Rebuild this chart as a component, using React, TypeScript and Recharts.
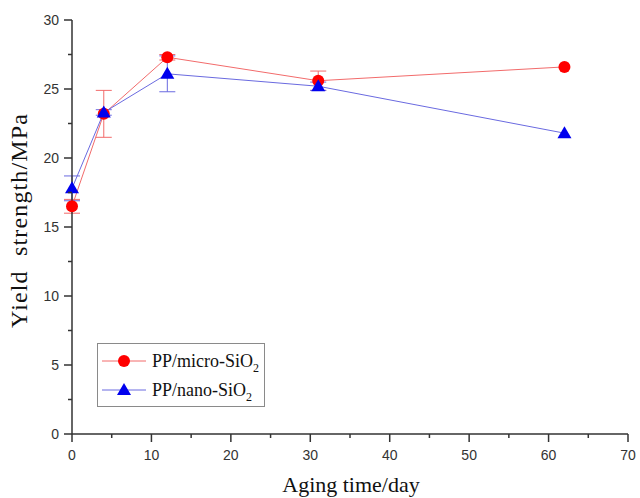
import React from "react";
import {
  LineChart,
  Line,
  XAxis,
  YAxis,
  ErrorBar,
  Legend,
} from "recharts";

const days = [0, 4, 12, 31, 62];
const microSiO2 = [16.5, 23.2, 27.3, 25.6, 26.6];
const microErr = [0.5, 1.7, 0.2, 0.7, 0];
const nanoSiO2 = [17.8, 23.3, 26.1, 25.2, 21.8];
const nanoErr = [0.9, 0.2, 1.3, 0.3, 0];

const xTicks = [0, 5, 10, 15, 20, 25, 30, 35, 40, 45, 50, 55, 60, 65, 70];
const yTicks = [0, 2.5, 5, 7.5, 10, 12.5, 15, 17.5, 20, 22.5, 25, 27.5, 30];

const data = days.map((d, i) => ({
  day: d,
  micro: microSiO2[i],
  microErr: microErr[i],
  nano: nanoSiO2[i],
  nanoErr: nanoErr[i],
}));

const RED = "#ff0000";
const RED_LINE = "#f26b6b";
const BLUE = "#0000ee";
const BLUE_LINE = "#6a6ae0";
const AXIS = "#333";
const SERIF = "'Liberation Serif', 'Times New Roman', serif";

// major ticks get a label and a longer mark, minor ones just a short mark
function XTick(props: any) {
  const { x, y, payload } = props;
  const major = payload.value % 10 === 0;
  return (
    <g>
      <line x1={x} x2={x} y1={y} y2={y + (major ? 8 : 4)} stroke={AXIS} strokeWidth={1.5} />
      {major && (
        <text x={x} y={y + 26} textAnchor="middle" fontSize={14} fill="#333" fontFamily="'Liberation Sans', Arial, sans-serif">
          {payload.value}
        </text>
      )}
    </g>
  );
}

function YTick(props: any) {
  const { x, y, payload } = props;
  const major = payload.value % 5 === 0;
  return (
    <g>
      <line x1={x - (major ? 8 : 4)} x2={x} y1={y} y2={y} stroke={AXIS} strokeWidth={1.5} />
      {major && (
        <text x={x - 13} y={y + 5} textAnchor="end" fontSize={14} fill="#333" fontFamily="'Liberation Sans', Arial, sans-serif">
          {payload.value}
        </text>
      )}
    </g>
  );
}

function Triangle(props: any) {
  const { cx, cy } = props;
  if (cx == null || cy == null) return null;
  return <path d={`M${cx},${cy - 7} L${cx + 7},${cy + 5} L${cx - 7},${cy + 5} Z`} fill={BLUE} />;
}

function Circle(props: any) {
  const { cx, cy } = props;
  if (cx == null || cy == null) return null;
  return <circle cx={cx} cy={cy} r={6} fill={RED} />;
}

function LegendBox() {
  const row = (color: string, marker: React.ReactNode, label: string) => (
    <div style={{ display: "flex", alignItems: "center", height: 29 }}>
      <svg width={48} height={20}>
        <line x1={2} x2={46} y1={10} y2={10} stroke={color} strokeWidth={1} />
        {marker}
      </svg>
      <span style={{ marginLeft: 4, fontSize: 18, lineHeight: "20px", color: "#111", fontFamily: SERIF, whiteSpace: "nowrap" }}>
        {label}
        <sub style={{ fontSize: 12, lineHeight: 0 }}>2</sub>
      </span>
    </div>
  );
  return (
    <div style={{ border: "1.5px solid #8a8a8a", width: 168, height: 64, boxSizing: "border-box", padding: "2px 0 0 2px", background: "#fff" }}>
      {row(RED_LINE, <circle cx={24} cy={10} r={6} fill={RED} />, "PP/micro-SiO")}
      {row(BLUE_LINE, <path d="M24,3 L31,15 L17,15 Z" fill={BLUE} />, "PP/nano-SiO")}
    </div>
  );
}

export default function App() {
  return (
    <div style={{ position: "absolute", left: 0, top: 0, width: 640, height: 498, background: "#fff" }}>
      <LineChart width={640} height={498} data={data} margin={{ top: 20, right: 12, left: 0, bottom: 0 }}>
        <XAxis
          dataKey="day"
          type="number"
          domain={[0, 70]}
          ticks={xTicks}
          interval={0}
          tick={<XTick />}
          tickLine={false}
          tickSize={0}
          tickMargin={0}
          height={64}
          axisLine={{ stroke: AXIS, strokeWidth: 1.5 }}
          label={{
            content: (p: any) => {
              const vb = p.viewBox;
              return (
                <text x={vb.x + vb.width / 2 + 1} y={vb.y + 58} textAnchor="middle" fontSize={22} fill="#111" fontFamily={SERIF}>
                  Aging time/day
                </text>
              );
            },
          }}
        />
        <YAxis
          type="number"
          domain={[0, 30]}
          ticks={yTicks}
          interval={0}
          tick={<YTick />}
          tickLine={false}
          tickSize={0}
          tickMargin={0}
          width={72}
          axisLine={{ stroke: AXIS, strokeWidth: 1.5 }}
          label={{
            content: (p: any) => {
              const vb = p.viewBox;
              const cx = vb.x + 27;
              const cy = vb.y + 201;
              return (
                <text x={cx} y={cy} transform={`rotate(-90 ${cx} ${cy})`} textAnchor="middle" fontSize={24} textLength={214} lengthAdjust="spacing" fill="#111" style={{ whiteSpace: "pre" }} fontFamily={SERIF}>
                  {"Yield  strength/MPa"}
                </text>
              );
            },
          }}
        />
        <Legend
          layout="vertical"
          align="center"
          verticalAlign="middle"
          wrapperStyle={{ left: 97, top: 343, width: 170 }}
          content={() => <LegendBox />}
        />
        <Line dataKey="micro" name="PP/micro-SiO2" stroke={RED_LINE} strokeWidth={1} dot={<Circle />} activeDot={false} isAnimationActive={false}>
          <ErrorBar dataKey="microErr" direction="y" width={8} stroke={RED_LINE} strokeWidth={1} />
        </Line>
        <Line dataKey="nano" name="PP/nano-SiO2" stroke={BLUE_LINE} strokeWidth={1} dot={<Triangle />} activeDot={false} isAnimationActive={false}>
          <ErrorBar dataKey="nanoErr" direction="y" width={8} stroke={BLUE_LINE} strokeWidth={1} />
        </Line>
      </LineChart>
    </div>
  );
}
